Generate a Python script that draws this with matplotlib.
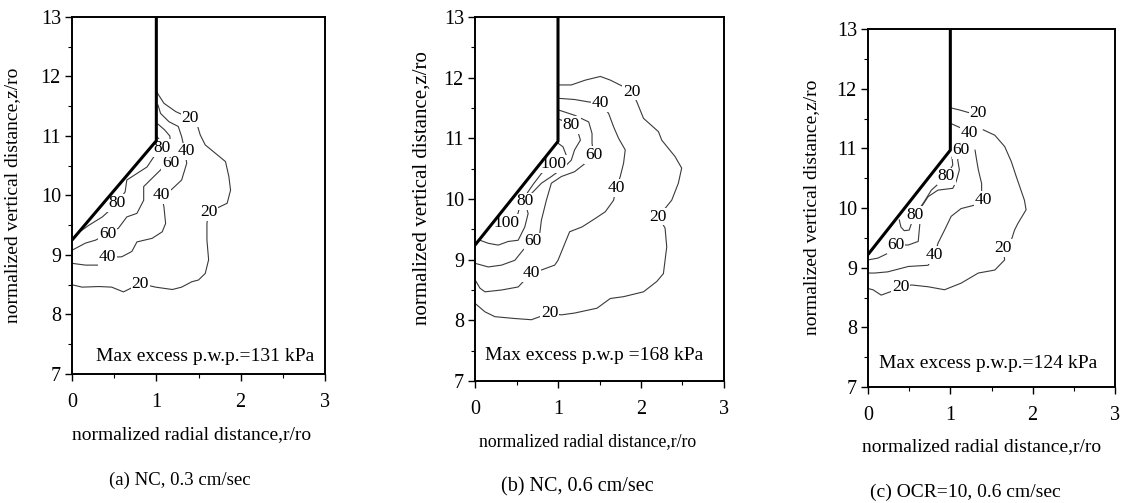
import matplotlib
matplotlib.use("Agg")
import matplotlib.pyplot as plt
from matplotlib.ticker import MultipleLocator

plt.rcParams['font.family'] = ['Liberation Serif', 'DejaVu Serif']

W, H = 1121, 503

# ---------------- data ----------------
x_ticks = [0, 1, 2, 3]
y_ticks = [7, 8, 9, 10, 11, 12, 13]
x_label = "normalized radial distance,r/ro"
y_label = "normalized vertical distance,z/ro"

# pile outline (r/ro, z/ro)
pile_r = [0.0, 1.0, 1.0]
pile_z_a = [9.25, 10.92, 13.0]
pile_z_b = [9.24, 10.95, 13.0]
pile_z_c = [9.22, 10.97, 13.0]

# contour polylines: (level, r list, z list)
a_contours = [
    (20, [1.0, 1.09, 1.23, 1.40, 1.48, 1.52, 1.58, 1.70, 1.82, 1.86, 1.88, 1.84, 1.62, 1.60, 1.60, 1.62,
          1.58, 1.50, 1.42, 1.30, 1.19, 0.99, 0.81, 0.61, 0.47, 0.32, 0.12, 0.0],
         [11.75, 11.55, 11.41, 11.30, 11.21, 11.02, 10.85, 10.71, 10.57, 10.32, 10.09, 9.87, 9.72, 9.53, 9.25, 8.92,
          8.69, 8.58, 8.55, 8.46, 8.42, 8.46, 8.52, 8.38, 8.46, 8.47, 8.46, 8.50]),
    (40, [1.02, 1.05, 1.15, 1.26, 1.30, 1.34, 1.36, 1.30, 1.18, 1.06, 1.09, 1.11, 1.07, 0.95, 0.77, 0.71,
          0.59, 0.42, 0.32, 0.16, 0.0],
         [11.52, 11.38, 11.24, 11.16, 10.99, 10.74, 10.54, 10.26, 10.10, 10.01, 9.81, 9.53, 9.39, 9.28, 9.22, 9.06,
          8.97, 8.96, 8.83, 8.83, 8.86]),
    (60, [1.02, 1.10, 1.16, 1.17, 1.15, 1.05, 0.95, 0.85, 0.85, 0.77, 0.65, 0.55, 0.42, 0.28, 0.16, 0.08, 0.0],
         [11.20, 11.10, 11.00, 10.82, 10.60, 10.43, 10.29, 10.15, 9.92, 9.70, 9.64, 9.45, 9.36, 9.25, 9.20, 9.14, 9.08]),
    (80, [1.0, 1.06, 1.09, 0.97, 0.89, 0.77, 0.65, 0.63, 0.53, 0.43, 0.36, 0.20, 0.10],
         [11.0, 10.90, 10.76, 10.65, 10.48, 10.37, 10.26, 10.06, 9.87, 9.73, 9.64, 9.50, 9.40]),
]
a_labels = [(20, 1.40, 11.30), (20, 1.62, 9.72), (20, 0.81, 8.52),
            (40, 1.36, 10.74), (40, 1.06, 10.01), (40, 0.42, 8.96),
            (60, 1.17, 10.55), (60, 0.42, 9.36),
            (80, 1.07, 10.80), (80, 0.53, 9.87)]

b_contours = [
    (20, [1.0, 1.16, 1.33, 1.51, 1.63, 1.79, 1.89, 1.95, 2.03, 2.21, 2.25, 2.41, 2.49, 2.45, 2.37, 2.21, 2.29,
          2.31, 2.27, 2.19, 2.03, 1.79, 1.63, 1.55, 1.47, 1.20, 1.04, 0.90, 0.68, 0.48, 0.24, 0.12, 0.0],
         [11.88, 11.88, 11.96, 12.02, 11.96, 11.85, 11.77, 11.60, 11.33, 11.11, 10.97, 10.70, 10.51, 10.26, 9.98,
          9.71, 9.52, 9.21, 8.77, 8.64, 8.47, 8.39, 8.36, 8.28, 8.20, 8.12, 8.09, 8.12, 8.01, 8.03, 8.06, 8.14, 8.28]),
    (40, [1.0, 1.20, 1.37, 1.51, 1.61, 1.67, 1.73, 1.81, 1.79, 1.75, 1.70, 1.67, 1.57, 1.45, 1.29, 1.14, 1.00,
          0.96, 0.80, 0.68, 0.52, 0.32, 0.12, 0.06, 0.0],
         [11.66, 11.64, 11.60, 11.58, 11.41, 11.19, 11.00, 10.81, 10.59, 10.37, 10.18, 9.98, 9.79, 9.68, 9.54, 9.46,
          8.99, 8.91, 8.83, 8.78, 8.55, 8.50, 8.47, 8.53, 8.67]),
    (60, [1.0, 1.20, 1.37, 1.41, 1.41, 1.43, 1.33, 1.20, 1.04, 0.92, 0.86, 0.80, 0.78, 0.70, 0.58, 0.48, 0.32,
          0.16, 0.0],
         [11.47, 11.38, 11.27, 11.08, 10.92, 10.73, 10.59, 10.45, 10.37, 10.26, 9.98, 9.65, 9.43, 9.30, 9.16, 8.99,
          8.91, 8.88, 8.94]),
    (80, [1.0, 1.08, 1.16, 1.24, 1.27, 1.20, 1.16, 1.08, 0.92, 0.80, 0.68, 0.60, 0.64, 0.60, 0.52, 0.40, 0.28,
          0.16, 0.06],
         [11.32, 11.28, 11.22, 11.11, 10.97, 10.81, 10.64, 10.53, 10.37, 10.26, 10.09, 9.96, 9.76, 9.54, 9.32, 9.30,
          9.24, 9.27, 9.32]),
    (100, [1.0, 1.06, 1.10, 1.04, 0.94, 0.80, 0.70, 0.60, 0.54, 0.51, 0.48, 0.38, 0.30],
          [10.92, 10.86, 10.72, 10.62, 10.58, 10.42, 10.24, 10.04, 9.88, 9.72, 9.62, 9.60, 9.70]),
]
b_labels = [(20, 1.89, 11.77), (20, 2.21, 9.71), (20, 0.90, 8.12),
            (40, 1.51, 11.58), (40, 1.70, 10.18), (40, 0.68, 8.78),
            (60, 1.43, 10.73), (60, 0.70, 9.30),
            (80, 1.16, 11.22), (80, 0.60, 9.96),
            (100, 0.94, 10.58), (100, 0.38, 9.60)]

c_contours = [
    (20, [1.0, 1.12, 1.22, 1.34],
         [11.68, 11.64, 11.60, 11.59]),
    (40, [1.0, 1.13, 1.23],
         [11.42, 11.34, 11.26]),
    (20, [1.40, 1.54, 1.66, 1.74, 1.80, 1.90, 1.92, 1.82, 1.78, 1.74, 1.64, 1.66, 1.54, 1.34, 1.13, 0.93, 0.73,
          0.53, 0.40, 0.28, 0.16, 0.06, 0.0],
         [11.31, 11.22, 11.03, 10.78, 10.53, 10.13, 9.97, 9.74, 9.63, 9.46, 9.33, 9.13, 8.96, 8.91, 8.74, 8.63, 8.68,
          8.71, 8.68, 8.60, 8.54, 8.63, 8.65]),
    (40, [1.30, 1.32, 1.34, 1.38, 1.38, 1.40, 1.30, 1.13, 1.01, 0.93, 0.85, 0.81, 0.73, 0.49, 0.24, 0.08, 0.0],
         [10.97, 10.80, 10.64, 10.41, 10.19, 10.14, 10.05, 9.99, 9.86, 9.63, 9.41, 9.21, 9.04, 9.02, 8.93, 8.91,
          8.91]),
    (60, [1.10, 1.09, 1.11, 1.07, 1.03, 0.85, 0.73, 0.65, 0.63, 0.61, 0.49, 0.34, 0.24, 0.12, 0.0],
         [10.97, 10.80, 10.64, 10.44, 10.33, 10.30, 10.19, 10.02, 9.74, 9.44, 9.38, 9.38, 9.24, 9.16, 9.13]),
    (80, [1.02, 1.03, 0.95, 0.85, 0.77, 0.68, 0.57, 0.53, 0.50, 0.44, 0.40, 0.38],
         [10.85, 10.72, 10.53, 10.40, 10.30, 10.10, 9.88, 9.75, 9.63, 9.62, 9.68, 9.80]),
]
c_labels = [(20, 1.34, 11.59), (20, 1.64, 9.33), (20, 0.40, 8.68),
            (40, 1.23, 11.26), (40, 1.40, 10.14), (40, 0.81, 9.21),
            (60, 1.13, 10.97), (60, 0.34, 9.38),
            (80, 0.95, 10.53), (80, 0.57, 9.88)]

max_texts = ["Max excess p.w.p.=131 kPa", "Max excess p.w.p =168 kPa", "Max excess p.w.p.=124 kPa"]
max_pos = [(0.28, 7.30), (0.12, 7.42), (0.13, 7.39)]
captions = ["(a) NC, 0.3 cm/sec", "(b) NC, 0.6 cm/sec", "(c) OCR=10, 0.6 cm/sec"]

# ---------------- layout (pixels) ----------------
axes_px = [(72, 325, 17, 374), (475, 724, 17, 381), (868, 1115, 29, 387)]
xlabel_px = [(192, 435), (588, 442), (982, 447)]
ylabel_px = [(13, 195), (422, 188), (812, 207)]
caption_px = [(180, 480), (577, 487), (965, 492)]
xlabel_fs = [14, 12.8, 14]
ylabel_fs = [14, 15, 14]
caption_fs = [13.5, 14.5, 14]

fig = plt.figure(figsize=(W / 100, H / 100), dpi=100)

panels = [(a_contours, a_labels, pile_z_a), (b_contours, b_labels, pile_z_b), (c_contours, c_labels, pile_z_c)]
line_col = '#3a3a3a'

for i, (conts, labs, pz) in enumerate(panels):
    l, r, t, b = axes_px[i]
    ax = fig.add_axes([l / W, 1 - b / H, (r - l) / W, (b - t) / H])
    ax.set_xlim(0, 3)
    ax.set_ylim(7, 13)
    ax.set_xticks(x_ticks)
    ax.set_yticks(y_ticks)
    ax.xaxis.set_minor_locator(MultipleLocator(0.5))
    ax.yaxis.set_minor_locator(MultipleLocator(0.5))
    ax.tick_params(which='major', direction='out', length=5, width=1.0, labelsize=14.5)
    ax.tick_params(axis='x', which='major', pad=9)
    ax.tick_params(axis='y', which='major', pad=3)
    ax.tick_params(which='minor', direction='out', length=3, width=0.8)
    for s in ax.spines.values():
        s.set_linewidth(1.4)
        s.set_color('black')
    for lev, rr, zz in conts:
        ax.plot(rr, zz, color=line_col, lw=0.8, zorder=2)
    for lev, lx, lz in labs:
        ax.text(lx, lz, str(lev), ha='center', va='center', fontsize=12.5, color='black', zorder=3,
                bbox=dict(boxstyle='square,pad=0.05', fc='white', ec='none'))
    ax.plot(pile_r, pz, color='black', lw=2.2, zorder=4, solid_capstyle='butt')
    mx, mz = max_pos[i]
    ax.text(mx, mz, max_texts[i], ha='left', va='center', fontsize=14, zorder=5)

    fig.text(xlabel_px[i][0] / W, 1 - xlabel_px[i][1] / H, x_label, ha='center', va='center',
             fontsize=xlabel_fs[i])
    fig.text(ylabel_px[i][0] / W, 1 - ylabel_px[i][1] / H, y_label, ha='center', va='center',
             fontsize=ylabel_fs[i], rotation=90)
    fig.text(caption_px[i][0] / W, 1 - caption_px[i][1] / H, captions[i], ha='center', va='center',
             fontsize=caption_fs[i])

fig.savefig("out.png", dpi=100)
